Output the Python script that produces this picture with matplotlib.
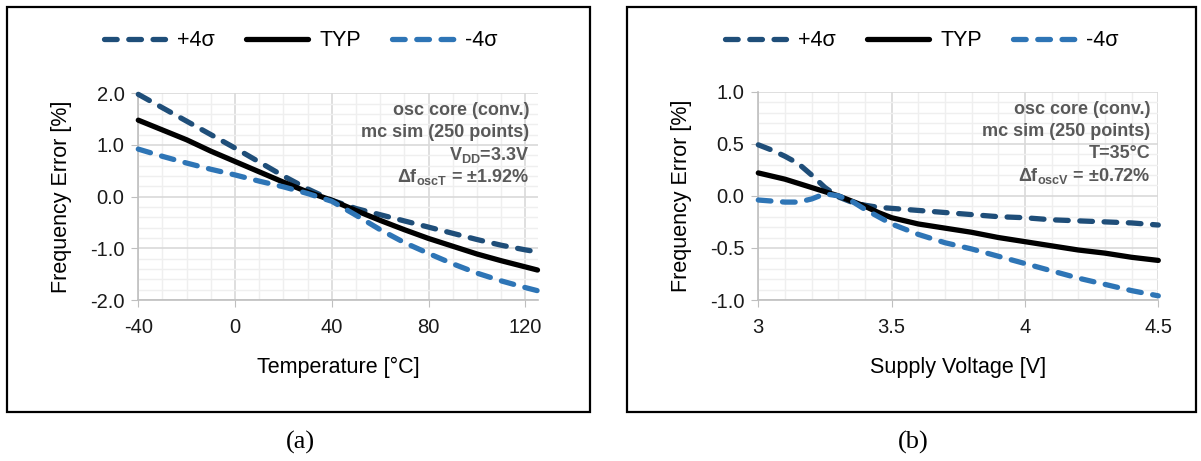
import numpy as np
import matplotlib
matplotlib.use('Agg')
import matplotlib.pyplot as plt
from matplotlib.patches import Rectangle
from matplotlib.ticker import MultipleLocator

plt.rcParams['font.family'] = ['Liberation Sans', 'DejaVu Sans']
plt.rcParams['axes.unicode_minus'] = False
plt.rcParams['mathtext.fontset'] = 'custom'
plt.rcParams['mathtext.rm'] = 'Liberation Sans:bold'
plt.rcParams['mathtext.it'] = 'Liberation Sans:bold'
plt.rcParams['mathtext.bf'] = 'Liberation Sans:bold'

# ---------------------------------------------------------------------------
# Data
# ---------------------------------------------------------------------------
# (a) frequency error vs temperature
temp = [-40, -30, -20, -10, 0, 10, 20, 30, 40, 50, 60, 70, 80, 90, 100, 110, 120, 125]
temp_p4 = [1.98, 1.72, 1.46, 1.20, 0.94, 0.67, 0.40, 0.15, -0.07, -0.23, -0.35, -0.47,
           -0.59, -0.71, -0.83, -0.94, -1.03, -1.07]
temp_typ = [1.48, 1.29, 1.10, 0.88, 0.68, 0.48, 0.28, 0.09, -0.07, -0.27, -0.46, -0.64,
            -0.81, -0.96, -1.11, -1.24, -1.36, -1.42]
temp_m4 = [0.92, 0.78, 0.65, 0.53, 0.42, 0.30, 0.19, 0.06, -0.09, -0.36, -0.64, -0.89,
           -1.10, -1.30, -1.48, -1.63, -1.76, -1.82]

# (b) frequency error vs supply voltage
vdd = [3.0, 3.05, 3.1, 3.15, 3.2, 3.25, 3.3, 3.35, 3.4, 3.45, 3.5, 3.6, 3.7, 3.8, 3.9,
       4.0, 4.1, 4.2, 4.3, 4.4, 4.5]
vdd_p4 = [0.49, 0.44, 0.38, 0.31, 0.20, 0.08, -0.01, -0.06, -0.09, -0.11, -0.12, -0.14,
          -0.16, -0.18, -0.20, -0.21, -0.23, -0.24, -0.25, -0.26, -0.28]
vdd_typ = [0.22, 0.19, 0.16, 0.12, 0.08, 0.04, 0.0, -0.05, -0.10, -0.16, -0.21, -0.27,
           -0.31, -0.35, -0.40, -0.44, -0.48, -0.52, -0.55, -0.59, -0.62]
vdd_m4 = [-0.04, -0.05, -0.06, -0.06, -0.03, 0.02, 0.0, -0.05, -0.13, -0.20, -0.27, -0.37,
          -0.45, -0.51, -0.58, -0.65, -0.72, -0.79, -0.85, -0.91, -0.96]

series_labels = ['+4\u03c3', 'TYP', '-4\u03c3']

note_a = ['osc core (conv.)', 'mc sim (250 points)', r'V$_{DD}$=3.3V',
          '\u0394f$_{oscT}$ = \u00b11.92%']
note_b = ['osc core (conv.)', 'mc sim (250 points)', 'T=35\u00b0C',
          '\u0394f$_{oscV}$ = \u00b10.72%']

# ---------------------------------------------------------------------------
# Styling
# ---------------------------------------------------------------------------
C_P4 = '#1F4E79'
C_M4 = '#2E75B6'
LW = 3.8
DASH = (0, (2.4, 2.2))

W, H = 1201, 461
fig = plt.figure(figsize=(W / 100, H / 100), dpi=100)


def px_axes(x0, x1, y0, y1):
    # pixel box -> figure coordinates
    return fig.add_axes([x0 / W, 1 - y1 / H, (x1 - x0) / W, (y1 - y0) / H])


def style_axes(ax):
    for s in ['top', 'right']:
        ax.spines[s].set_visible(False)
    for s in ['left', 'bottom']:
        ax.spines[s].set_color('#BFBFBF')
        ax.spines[s].set_linewidth(1.2)
    ax.grid(True, which='major', color='#D9D9D9', linewidth=1.2)
    ax.grid(True, which='minor', color='#EFEFEF', linewidth=1.0)
    ax.set_axisbelow(True)
    ax.tick_params(which='major', length=5, color='#BFBFBF', labelsize=14.5,
                   labelcolor='#1a1a1a')
    ax.tick_params(which='minor', length=0)
    ax.tick_params(axis='x', pad=8)
    ax.tick_params(axis='y', pad=5)


def draw_series(ax, x, p4, typ, m4):
    l1, = ax.plot(x, p4, color=C_P4, lw=LW, linestyle=DASH, dash_capstyle='round',
                  clip_on=False, zorder=3)
    l2, = ax.plot(x, typ, color='black', lw=LW, solid_capstyle='round', clip_on=False,
                  zorder=4)
    l3, = ax.plot(x, m4, color=C_M4, lw=LW, linestyle=DASH, dash_capstyle='round',
                  clip_on=False, zorder=5)
    return [l1, l2, l3]


def draw_note(ax, lines):
    y0 = 0.915
    for i, t in enumerate(lines):
        ax.text(0.98, y0 - i * 0.106, t, transform=ax.transAxes, ha='right', va='center',
                fontsize=13, fontweight='bold', color='#595959', zorder=6)


# ---------------------------------------------------------------------------
# (a) Temperature
# ---------------------------------------------------------------------------
ax1 = px_axes(138.3, 537.5, 93.3, 300)
h1 = draw_series(ax1, temp, temp_p4, temp_typ, temp_m4)
ax1.set_xlim(-40, 125)
ax1.set_ylim(-2.0, 2.0)
ax1.xaxis.set_major_locator(MultipleLocator(40))
ax1.xaxis.set_minor_locator(MultipleLocator(10))
ax1.yaxis.set_major_locator(MultipleLocator(1.0))
ax1.yaxis.set_minor_locator(MultipleLocator(0.2))
ax1.yaxis.set_major_formatter(plt.FormatStrFormatter('%.1f'))
style_axes(ax1)
ax1.set_xlabel('Temperature [\u00b0C]', fontsize=15.5, labelpad=14)
ax1.set_ylabel('Frequency Error [%]', fontsize=15.5, labelpad=13)
draw_note(ax1, note_a)

# ---------------------------------------------------------------------------
# (b) Supply voltage
# ---------------------------------------------------------------------------
ax2 = px_axes(758.3, 1158.3, 91.7, 300)
h2 = draw_series(ax2, vdd, vdd_p4, vdd_typ, vdd_m4)
ax2.set_xlim(3.0, 4.5)
ax2.set_ylim(-1.0, 1.0)
ax2.xaxis.set_major_locator(MultipleLocator(0.5))
ax2.xaxis.set_minor_locator(MultipleLocator(0.1))
ax2.yaxis.set_major_locator(MultipleLocator(0.5))
ax2.yaxis.set_minor_locator(MultipleLocator(0.1))
ax2.xaxis.set_major_formatter(plt.FuncFormatter(lambda v, p: f'{v:g}'))
ax2.yaxis.set_major_formatter(plt.FormatStrFormatter('%.1f'))
style_axes(ax2)
ax2.set_xlabel('Supply Voltage [V]', fontsize=15.5, labelpad=14)
ax2.set_ylabel('Frequency Error [%]', fontsize=15.5, labelpad=13)
draw_note(ax2, note_b)

# legends above each panel
for handles, xc in [(h1, 301 / W), (h2, 922 / W)]:
    fig.legend(handles, series_labels, loc='center', bbox_to_anchor=(xc, 1 - 41 / H),
               ncol=3, frameon=False, fontsize=15.5, handlelength=2.85, handletextpad=0.55,
               columnspacing=1.45)

# panel frames and captions
for x0, x1 in [(7, 590), (627, 1196)]:
    fig.add_artist(Rectangle((x0 / W, 1 - 412 / H), (x1 - x0) / W, 405 / H,
                             transform=fig.transFigure, fill=False, edgecolor='black',
                             linewidth=1.6))
fig.text(300 / W, 1 - 442 / H, '(a)', ha='center', va='center', fontsize=19,
         family='Liberation Serif')
fig.text(913 / W, 1 - 442 / H, '(b)', ha='center', va='center', fontsize=19,
         family='Liberation Serif')

plt.savefig('out.png', dpi=100)
plt.close()
